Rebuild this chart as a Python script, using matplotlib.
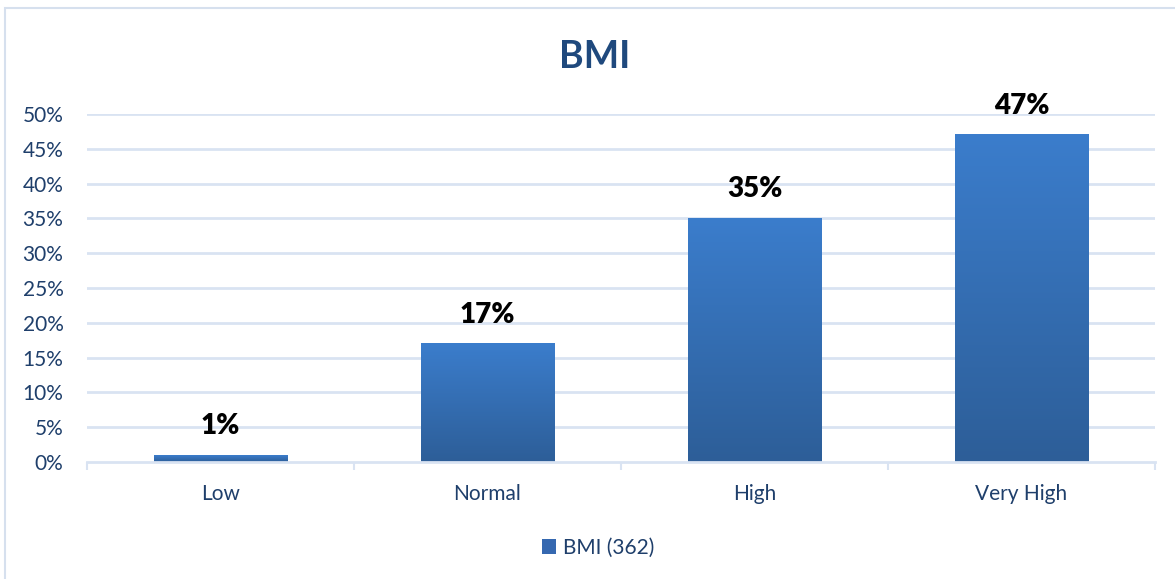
import numpy as np
import matplotlib
matplotlib.use("Agg")
import matplotlib.pyplot as plt
from matplotlib.patches import Rectangle, Patch
from matplotlib.colors import LinearSegmentedColormap

categories = ["Low", "Normal", "High", "Very High"]
values = [0.01, 0.17, 0.35, 0.47]
value_labels = ["1%", "17%", "35%", "47%"]
yticks = [0, 0.05, 0.10, 0.15, 0.20, 0.25, 0.30, 0.35, 0.40, 0.45, 0.50]
ytick_labels = ["0%", "5%", "10%", "15%", "20%", "25%", "30%", "35%", "40%", "45%", "50%"]
series_name = "BMI (362)"
title = "BMI"

plt.rcParams['font.family'] = ['Lato', 'DejaVu Sans']

W, H = 1175, 579
fig = plt.figure(figsize=(W / 100, H / 100), dpi=100)
fig.patch.set_facecolor("white")

# outer chart border
fig.add_artist(Rectangle((5 / W, -0.01), 1.1, 1 - 8 / H + 0.01, transform=fig.transFigure,
                         fill=False, edgecolor="#D6E0EE", linewidth=1.5))

ax = fig.add_axes([87 / W, 117 / H, 1068 / W, 348 / H])
ax.set_xlim(-0.5, len(categories) - 0.5)
ax.set_ylim(0, 0.5)

grid_color = "#D9E3F2"
text_color = "#1F3F6B"
for t in yticks[1:]:
    ax.axhline(t, color=grid_color, linewidth=2, zorder=0)

cmap = LinearSegmentedColormap.from_list("bar", ["#2D5E98", "#3B7DCC"])
grad = np.linspace(0, 1, 256).reshape(-1, 1)
bw = 0.5
x = np.arange(len(categories))
for xi, v, lab in zip(x, values, value_labels):
    # subtle shadow
    ax.add_patch(Rectangle((xi - bw / 2 + 0.004, -0.002), bw, v, facecolor="#C8C8C8",
                           edgecolor="none", zorder=1, alpha=0.6))
    ax.imshow(grad, cmap=cmap, origin="lower", aspect="auto",
              extent=[xi - bw / 2, xi + bw / 2, 0, v], zorder=2, interpolation="bilinear")
    ax.annotate(lab, (xi, v), xytext=(0, 21), textcoords="offset points",
                ha="center", va="center", fontsize=20, fontweight="heavy", color="black",
                annotation_clip=False)

ax.set_xlim(-0.5, len(categories) - 0.5)
ax.set_ylim(0, 0.5)

for s in ["top", "right", "left"]:
    ax.spines[s].set_visible(False)
ax.spines["bottom"].set_color(grid_color)
ax.spines["bottom"].set_linewidth(2)

ax.set_yticks(yticks)
ax.set_yticklabels(ytick_labels)
ax.tick_params(axis="y", length=0, pad=17, labelsize=15, labelcolor=text_color)

ax.set_xticks(x)
ax.set_xticklabels(categories)
ax.tick_params(axis="x", length=0, pad=16, labelsize=15, labelcolor=text_color)
ax.set_xticks(np.arange(len(categories) + 1) - 0.5, minor=True)
ax.tick_params(axis="x", which="minor", length=6, width=1.5, color=grid_color)

fig.text(595 / W, 1 - 57 / H, title, ha="center", va="center", fontsize=27,
         fontweight="bold", color="#1F497D")

handle = Patch(facecolor="#3568B0", edgecolor="none")
fig.legend([handle], [series_name], loc="center", bbox_to_anchor=(598 / W, 1 - 548 / H),
           frameon=False, fontsize=15, labelcolor=text_color, handlelength=0.7,
           handleheight=0.7, handletextpad=0.3)

fig.savefig("out.png", dpi=100, facecolor="white")
